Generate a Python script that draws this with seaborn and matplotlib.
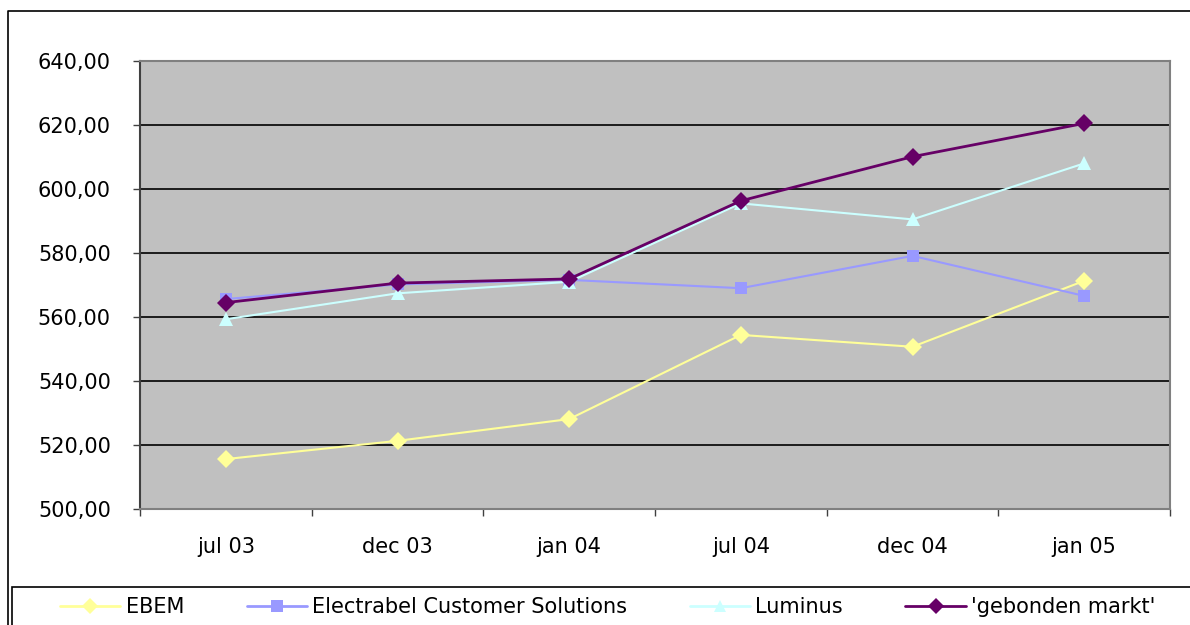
import numpy as np
import pandas as pd
import seaborn as sns
import matplotlib.pyplot as plt
from matplotlib.lines import Line2D
from matplotlib.patches import Rectangle
from matplotlib.ticker import FixedLocator, FuncFormatter

# Gegevens
periodes = ['jul 03', 'dec 03', 'jan 04', 'jul 04', 'dec 04', 'jan 05']
ebem = [515.6, 521.3, 528.1, 554.4, 550.7, 571.3]
electrabel = [565.6, 570.2, 571.6, 569.0, 579.1, 566.6]
luminus = [559.3, 567.4, 571.0, 595.5, 590.5, 608.0]
gebonden = [564.5, 570.6, 571.9, 596.3, 610.1, 620.5]

reeksen = ['EBEM', 'Electrabel Customer Solutions', 'Luminus', "'gebonden markt'"]
kleuren = ['#FFFF99', '#9999FF', '#CCFFFF', '#660066']
markers = ['D', 's', '^', 'D']

rows = []
for naam, waarden in zip(reeksen, [ebem, electrabel, luminus, gebonden]):
    for i, v in enumerate(waarden):
        rows.append({'pos': i, 'waarde': v, 'reeks': naam})
df = pd.DataFrame(rows)

sns.set_style('white')
plt.rcParams['font.family'] = ['DejaVu Sans']
plt.rcParams['text.color'] = 'black'
plt.rcParams['xtick.color'] = 'black'
plt.rcParams['ytick.color'] = 'black'

fig = plt.figure(figsize=(11.9, 6.25), dpi=100)
ax = fig.add_axes([140/1190, 1 - 509/625, 1030/1190, 448/625])
ax.set_facecolor('#C0C0C0')

sns.lineplot(data=df, x='pos', y='waarde', hue='reeks', style='reeks',
             hue_order=reeksen, style_order=reeksen,
             palette=kleuren, markers=dict(zip(reeksen, markers)), dashes=False,
             markersize=9, markeredgewidth=0, legend=False, ax=ax, zorder=3)
for line, lw, ms in zip(ax.lines, [1.5, 1.5, 1.5, 2.0], [9, 9, 10, 9]):
    line.set_linewidth(lw)
    line.set_markersize(ms)

ax.set_xlim(-0.5, 5.5)
ax.set_ylim(500, 640)
ax.set_yticks(np.arange(500, 641, 20))
ax.yaxis.set_major_formatter(FuncFormatter(lambda v, p: f'{v:.2f}'.replace('.', ',')))
ax.set_xticks(range(len(periodes)))
ax.set_xticklabels(periodes)
ax.xaxis.set_minor_locator(FixedLocator(np.arange(-0.5, 5.6, 1)))
ax.tick_params(axis='x', which='major', length=0, pad=20, labelsize=15, labelcolor='black')
ax.tick_params(axis='x', which='minor', length=5, width=1, color='#404040', direction='out', bottom=True)
ax.tick_params(axis='y', length=5, width=1, color='#404040', direction='out', pad=16,
               labelsize=15, labelcolor='black', left=True)
ax.set_xlabel('')
ax.set_ylabel('')
ax.grid(axis='y', color='black', linewidth=1.2, zorder=1)
ax.set_axisbelow(True)
for kant in ['top', 'right', 'bottom']:
    ax.spines[kant].set_color('#808080')
    ax.spines[kant].set_linewidth(1.5)
ax.spines['left'].set_color('#404040')
ax.spines['left'].set_linewidth(1.5)

# buitenrand van de grafiek
fig.add_artist(Line2D([8/1190, 8/1190, 1.0], [0, 1 - 11/625, 1 - 11/625],
                      transform=fig.transFigure, color='black', linewidth=1.2))

# kader van de legende
fig.add_artist(Rectangle((12/1190, -0.05), 1.0, 0.05 + (625 - 587)/625,
                         transform=fig.transFigure, fill=False, edgecolor='black', linewidth=1.2))

handles = [Line2D([], [], color=c, marker=m, markersize=8, markeredgewidth=0, linewidth=2)
           for c, m in zip(kleuren, markers)]
leg = fig.legend(handles, reeksen, loc='center left', bbox_to_anchor=(60/1190, 1 - 607/625),
                 ncol=4, frameon=False, fontsize=15,
                 handlelength=2.9, handletextpad=0.25, columnspacing=3.0, borderpad=0,
                 borderaxespad=0)

fig.savefig('out.png', dpi=100)
